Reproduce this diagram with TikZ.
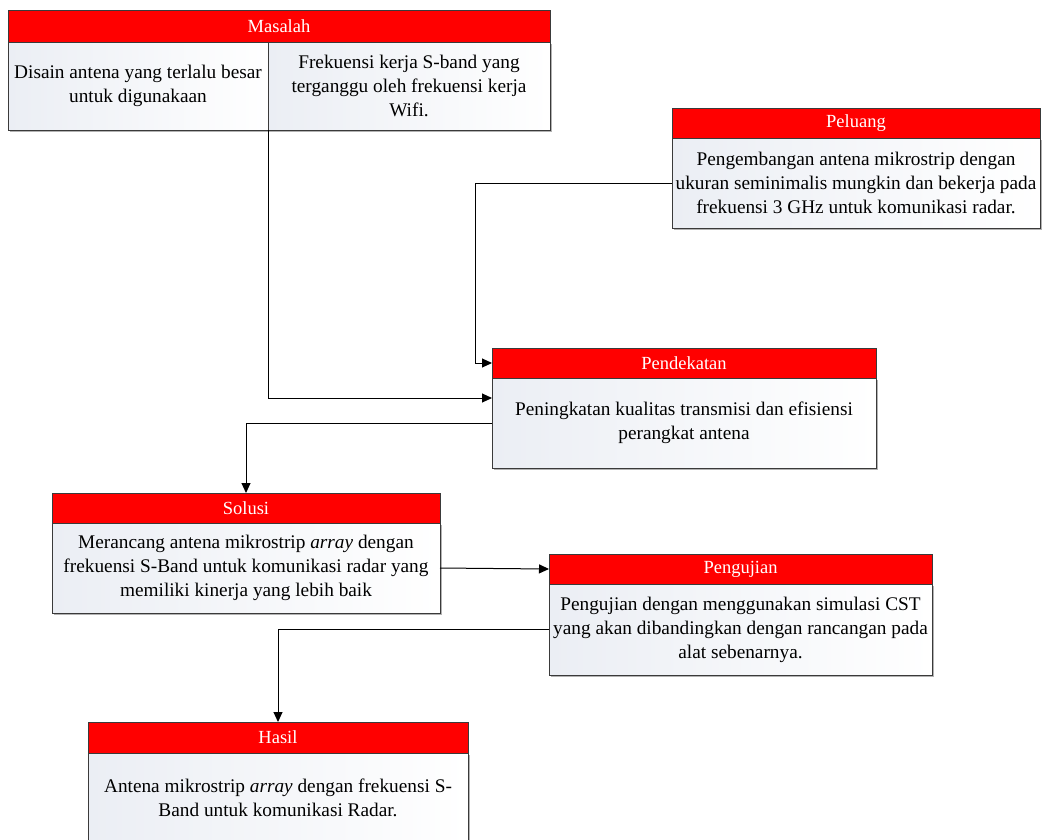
\documentclass[tikz,border=0pt]{standalone}
\usepackage{fontspec}
\setmainfont{Liberation Serif}
\usetikzlibrary{arrows.meta,shadows}
\definecolor{boxred}{HTML}{FF0000}
\definecolor{edgegray}{HTML}{3A3A3A}
\definecolor{bodyL}{HTML}{EBEEF4}
\tikzset{
 ttl/.style={draw=edgegray, line width=1pt, fill=boxred, text=white, anchor=north west,
   inner sep=0pt, outer sep=0pt, font=\fontsize{18.5}{21}\selectfont},
 bdy/.style={draw=edgegray, line width=1pt, left color=bodyL, right color=white, anchor=north west,
   inner sep=0pt, outer sep=0pt, align=center, font=\fontsize{19.3}{24}\selectfont,
   drop shadow={shadow xshift=1.5pt,shadow yshift=-1.5pt,fill=black,opacity=0.3}},
 arr/.style={draw=black, line width=1pt, -{Triangle[length=10pt,width=9pt]}},
}
\begin{document}
\begin{tikzpicture}[x=1pt,y=-1pt]
\useasboundingbox[fill=white] (0,0) rectangle (1042,839);
% Masalah
\node[bdy, minimum width=260pt, minimum height=88pt] (masA) at (8,42) {Disain antena yang terlalu besar\\untuk digunakaan};
\node[bdy, minimum width=282pt, minimum height=88pt] (masB) at (268,42) {Frekuensi kerja S-band yang\\terganggu oleh frekuensi kerja\\Wifi.};
\node[ttl, minimum width=542pt, minimum height=32pt] (masT) at (8,10) {Masalah};
% Peluang
\node[bdy, minimum width=368pt, minimum height=90pt] (pelB) at (672,138) {Pengembangan antena mikrostrip dengan\\ukuran seminimalis mungkin dan bekerja pada\\frekuensi 3 GHz untuk komunikasi radar.};
\node[ttl, minimum width=368pt, minimum height=30pt] (pelT) at (672,108) {Peluang};
% Pendekatan
\node[bdy, minimum width=384pt, minimum height=90pt] (pendB) at (492,378) {Peningkatan kualitas transmisi dan efisiensi\\perangkat antena};
\node[ttl, minimum width=384pt, minimum height=30pt] (pendT) at (492,348) {Pendekatan};
% Solusi
\node[bdy, minimum width=388pt, minimum height=90pt] (solB) at (52,523) {Merancang antena mikrostrip \textit{array} dengan\\frekuensi S-Band untuk komunikasi radar yang\\memiliki kinerja yang lebih baik};
\node[ttl, minimum width=388pt, minimum height=30pt] (solT) at (52,493) {Solusi};
% Pengujian
\node[bdy, minimum width=383pt, minimum height=91pt] (pengB) at (549,584) {Pengujian dengan menggunakan simulasi CST\\yang akan dibandingkan dengan rancangan pada\\alat sebenarnya.};
\node[ttl, minimum width=383pt, minimum height=30pt] (pengT) at (549,554) {Pengujian};
% Hasil
\node[bdy, minimum width=380pt, minimum height=89pt] (hasB) at (88,753) {Antena mikrostrip \textit{array} dengan frekuensi S-\\Band untuk komunikasi Radar.};
\node[ttl, minimum width=380pt, minimum height=31pt] (hasT) at (88,722) {Hasil};
% connectors
\draw[arr] (masA.south east) |- ([yshift=-20pt]pendB.north west);
\draw[arr] (pelB.west) -- ++(-197,0) |- (pendT.west);
\draw[arr] (pendB.west) -| (solT.north);
\draw[arr] (solB.east) -- (pengT.west);
\draw[arr] (pengB.west) -| (hasT.north);
\end{tikzpicture}
\end{document}
